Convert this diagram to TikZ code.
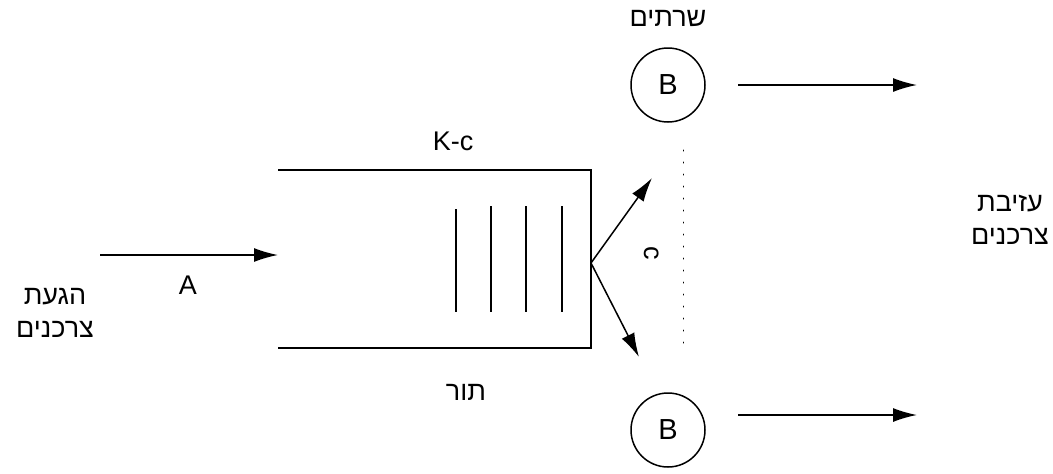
\documentclass[tikz,border=0pt]{standalone}
\usepackage{fontspec}
\setmainfont{Liberation Sans}
\newfontfamily\hebfont[Script=Hebrew]{Liberation Sans}
\TeXXeTstate=1
\usetikzlibrary{arrows.meta}
\begin{document}
\begin{tikzpicture}[x=1pt,y=-1pt,
  lbl/.style={font=\fontsize{27}{31}\selectfont, inner sep=0pt},
  heb/.style={font=\fontsize{27}{33}\hebfont, inner sep=0pt, align=center},
  arr/.style={line width=1.5, -{Latex[length=24,width=14]}},
  ln/.style={line width=1.5},
  srv/.style={circle, draw, line width=1.5, minimum size=74, inner sep=0pt, font=\fontsize{29}{32}\selectfont}]
\useasboundingbox (0,0) rectangle (1053,474);
% queue
\draw[line width=2.5] (278,170) -- (591,170);
\draw[ln] (591,169) -- (591,348) -- (278,348);
\foreach \x/\t in {456/209,491/206,526/206,562/206} \draw[ln] (\x,\t) -- (\x,312);
% arrival
\coordinate (ain) at (100,255);
\coordinate (aout) at (278,255);
\draw[arr] (ain) -- (aout);
\node[lbl] (A) at (188,285) {A};
\node[heb] (arrive) at (55,313) {\beginR הגעת\endR\\\beginR צרכנים\endR};
\node[lbl] (kc) at (453,141) {K-c};
\node[heb] (tor) at (466,392) {\beginR תור\endR};
% servers
\node[srv] (b1) at (668,85) {B};
\node[srv] (b2) at (668,430) {B};
\node[heb] (servers) at (668,18) {\beginR שרתים\endR};
\coordinate (fan) at (591,263);
\coordinate (t1) at (652,178);
\coordinate (t2) at (639,357);
\draw[arr] (fan) -- (t1);
\draw[arr] (fan) -- (t2);
\coordinate (d1) at (683,150);
\coordinate (d2) at (683,345);
\draw[line width=1, dash pattern=on 1 off 11, line cap=round] (d1) -- (d2);
\node[lbl, rotate=-90] (c) at (652,253) {c};
% departures
\coordinate (o1) at (738,85);
\coordinate (e1) at (917,85);
\coordinate (o2) at (738,415);
\coordinate (e2) at (917,415);
\draw[arr] (o1) -- (e1);
\draw[arr] (o2) -- (e2);
\node[heb] (leave) at (1010,220) {\beginR עזיבת\endR\\\beginR צרכנים\endR};
\end{tikzpicture}
\end{document}
